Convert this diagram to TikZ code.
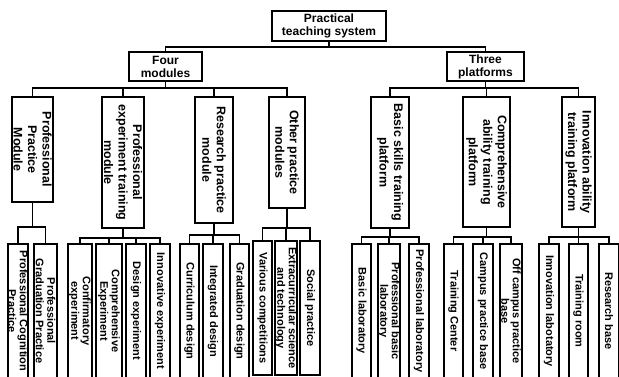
\documentclass[tikz,border=0pt]{standalone}
\usepackage{fontspec}
\setmainfont{Liberation Sans}
\begin{document}
\begin{tikzpicture}
	[
	x=1pt, y=-1pt, line width=1.3pt,
	%Kaesten der Ebenen
	topbox/.style={draw, align=center, inner sep=0pt, font=\fontsize{12}{13}\selectfont\bfseries},
	modbox/.style={draw, rotate=-90, align=center, inner sep=0pt, font=\fontsize{12.5}{14.5}\selectfont\bfseries},
	leafbox/.style={draw, rotate=-90, align=center, inner sep=0pt, minimum width=134, font=\fontsize{11}{11.5}\selectfont\bfseries}
	]
	
	\useasboundingbox (0,0) rectangle (619,376);
	\clip (0,0) rectangle (619,376);
	
	%Wurzel und zwei Aeste
	\node [topbox, minimum width=114, minimum height=30] (root) at (329,26) {Practical\\teaching system};
	\node [topbox, minimum width=73, minimum height=29] (four) at (165.5,66.5) {Four\\modules};
	\node [topbox, minimum width=77, minimum height=29] (three) at (485.5,66.5) {Three\\platforms};
	
	\coordinate (root-bus) at (329,47);
	\coordinate (four-bus) at (165.5,88);
	\coordinate (three-bus) at (485.5,88);
	\draw (root.south) -- (root-bus);
	\draw (four.north) |- (root-bus);
	\draw (three.north) |- (root-bus);
	\draw (four.south) -- (four-bus);
	\draw (three.south) -- (three-bus);
	
	%Module und Plattformen (gedreht, west = oben)
	\node [modbox, minimum width=105, minimum height=41] (ppm) at (32.5,149.5) {Professional\\Practice\\Module};
	\node [modbox, minimum width=131, minimum height=42] (petm) at (123,162.5) {Professional\\experiment training\\module};
	\node [modbox, minimum width=126, minimum height=38] (rpm) at (214,160) {Research practice\\module};
	\node [modbox, minimum width=111, minimum height=36] (opm) at (287,152.5) {Other practice\\modules};
	\node [modbox, minimum width=131, minimum height=38] (bstp) at (390,162.5) {Basic skills training\\platform};
	\node [modbox, minimum width=130, minimum height=47] (catp) at (486.5,162) {Comprehensive\\ability training\\platform};
	\node [modbox, minimum width=130, minimum height=33] (iatp) at (578.5,162) {Innovation ability\\training platform};
	
	\foreach \m in {ppm,petm,rpm,opm}
	\draw (\m.west) |- (four-bus);
	\foreach \m in {bstp,catp,iatp}
	\draw (\m.west) |- (three-bus);
	
	%Sammelschienen unter den Modulen
	\foreach \m/\x/\y in {ppm/32.5/227, petm/123/238, rpm/214/235, opm/287/228, bstp/390/237, catp/486.5/237, iatp/578.5/237}
	{
		\coordinate (\m-bus) at (\x,\y);
		\draw (\m.east) -- (\m-bus);
	}
	
	%Blaetter
	\foreach \n/\x/\y/\w/\p/\txt in {
		pcp/18/311/20/ppm/{Professional Cognition\\Practice},
		pgp/45.5/311/23/ppm/{Professional\\Graduation Practice},
		cfe/80/311/24/petm/{Confirmatory\\experiment},
		cpe/109/311/26/petm/{Comprehensive\\Experiment},
		dex/136/311/20/petm/{Design experiment},
		iex/160/311/20/petm/{Innovative experiment},
		cud/189.5/311/19/rpm/{Curriculum design},
		ind/213/311/20/rpm/{Integrated design},
		grd/239.5/311/19/rpm/{Graduation design},
		vco/262.5/308/19/opm/{Various competitions},
		est/286/308/20/opm/{Extracurricular science\\and technology},
		spr/310/308/20/opm/{Social practice},
		bla/361.5/311/19/bstp/{Basic laboratory},
		pbl/389/311/22/bstp/{Professional basic\\laboratory},
		pla/419/311/20/bstp/{Professional laboratory},
		trc/453.5/311/19/catp/{Training Center},
		cpb/483/311/20/catp/{Campus practice base},
		ocb/511/311/22/catp/{Off campus practice\\base},
		inl/549/311/20/iatp/{Innovation labotatory},
		trr/578.5/311/19/iatp/{Training room},
		reb/609/311/20/iatp/{Research base}}
	{
		\node [leafbox, minimum height=\w] (\n) at (\x,\y) {\txt};
		\draw (\n.west) |- (\p-bus);
	}
\end{tikzpicture}
\end{document}
